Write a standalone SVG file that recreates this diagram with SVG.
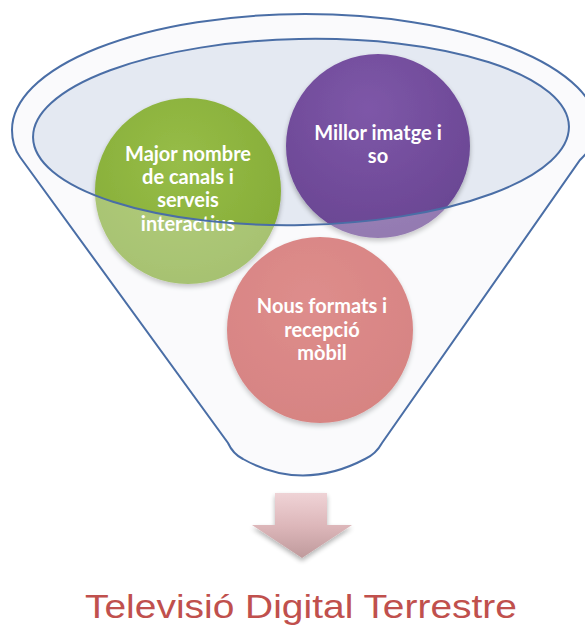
<svg xmlns="http://www.w3.org/2000/svg" width="585" height="625" viewBox="0 0 585 625">
<defs>
<style>
.lbl{font-family:Lato,"Open Sans","Liberation Sans",sans-serif;font-weight:bold;font-size:20px;fill:#ffffff;text-anchor:middle}
.funnel{fill:none;stroke:#4a6ea6;stroke-width:2}
.title{font-family:"Liberation Sans",Arial,sans-serif;font-size:33px;fill:#c0504d}
</style>
<radialGradient id="gGreen" cx="0.45" cy="0.35" r="0.7">
<stop offset="0" stop-color="#97bd48"/><stop offset="1" stop-color="#84ab36"/>
</radialGradient>
<radialGradient id="gPurple" cx="0.45" cy="0.3" r="0.7">
<stop offset="0" stop-color="#7e57a8"/><stop offset="1" stop-color="#6a4693"/>
</radialGradient>
<radialGradient id="gPink" cx="0.45" cy="0.35" r="0.7">
<stop offset="0" stop-color="#d4605d"/><stop offset="1" stop-color="#c9524f"/>
</radialGradient>
<linearGradient id="gArrow" x1="0" y1="0" x2="0" y2="1">
<stop offset="0" stop-color="#efd3d6"/><stop offset="0.5" stop-color="#ddb7ba"/><stop offset="1" stop-color="#bf9a9c"/>
</linearGradient>
<filter id="shadow" x="-20%" y="-20%" width="140%" height="140%">
<feGaussianBlur in="SourceAlpha" stdDeviation="2.5"/>
<feOffset dx="0" dy="3" result="b"/>
<feComponentTransfer><feFuncA type="linear" slope="0.3"/></feComponentTransfer>
<feMerge><feMergeNode/><feMergeNode in="SourceGraphic"/></feMerge>
</filter>
</defs>
<rect width="585" height="625" fill="#ffffff"/>
<g id="funnel">
<path d="M20,157 C15,150 12,140 12,130 A293,116 0 0 1 598,130 C598,140 590,150 580,160 L382,443 Q376,454 365,459 Q302,492 243,459 Q233,454 228,443 Z" fill="#fcfdfe"/>
<ellipse cx="301" cy="132" rx="268" ry="93" transform="rotate(-1.2 301 132)" fill="#e4e9f2"/>
</g>
<g id="node-green" filter="url(#shadow)"><circle cx="188" cy="191" r="93" fill="url(#gGreen)"/></g>
<g id="node-purple" filter="url(#shadow)"><circle cx="378" cy="146" r="92" fill="url(#gPurple)"/></g>
<g id="node-pink" filter="url(#shadow)"><circle cx="320" cy="330" r="93" fill="url(#gPink)"/></g>
<path id="overlay" fill-rule="evenodd" fill="#f4f6fa" fill-opacity="0.3" d="M20,157 C15,150 12,140 12,130 A293,116 0 0 1 598,130 C598,140 590,150 580,160 L382,443 Q376,454 365,459 Q302,492 243,459 Q233,454 228,443 Z M33,132 A268,93 -1.2 0 0 569,132 A268,93 -1.2 0 0 33,132 Z"/>
<g id="labels">
<text class="lbl" x="188" y="161">Major nombre</text>
<text class="lbl" x="188" y="184">de canals i</text>
<text class="lbl" x="188" y="207">serveis</text>
<text class="lbl" x="188" y="231">interactius</text>
<text class="lbl" x="378" y="140">Millor imatge i</text>
<text class="lbl" x="378" y="163">so</text>
<text class="lbl" x="322" y="313">Nous formats i</text>
<text class="lbl" x="322" y="337">recepció</text>
<text class="lbl" x="322" y="360">mòbil</text>
</g>
<g id="outline">
<path class="funnel" d="M20,157 C15,150 12,140 12,130 A293,116 0 0 1 598,130 C598,140 590,150 580,160 L382,443 Q376,454 365,459 Q302,492 243,459 Q233,454 228,443 Z"/>
<ellipse class="funnel" cx="301" cy="132" rx="268" ry="93" transform="rotate(-1.2 301 132)"/>
</g>
<g id="connectors">
<path d="M275,493 L327,493 L327,525 L352,525 L302,558 L252,525 L275,525 Z" fill="url(#gArrow)" filter="url(#shadow)"/>
</g>
<g id="title"><text class="title" x="85" y="618" textLength="432" lengthAdjust="spacingAndGlyphs">Televisió Digital Terrestre</text></g>
</svg>
